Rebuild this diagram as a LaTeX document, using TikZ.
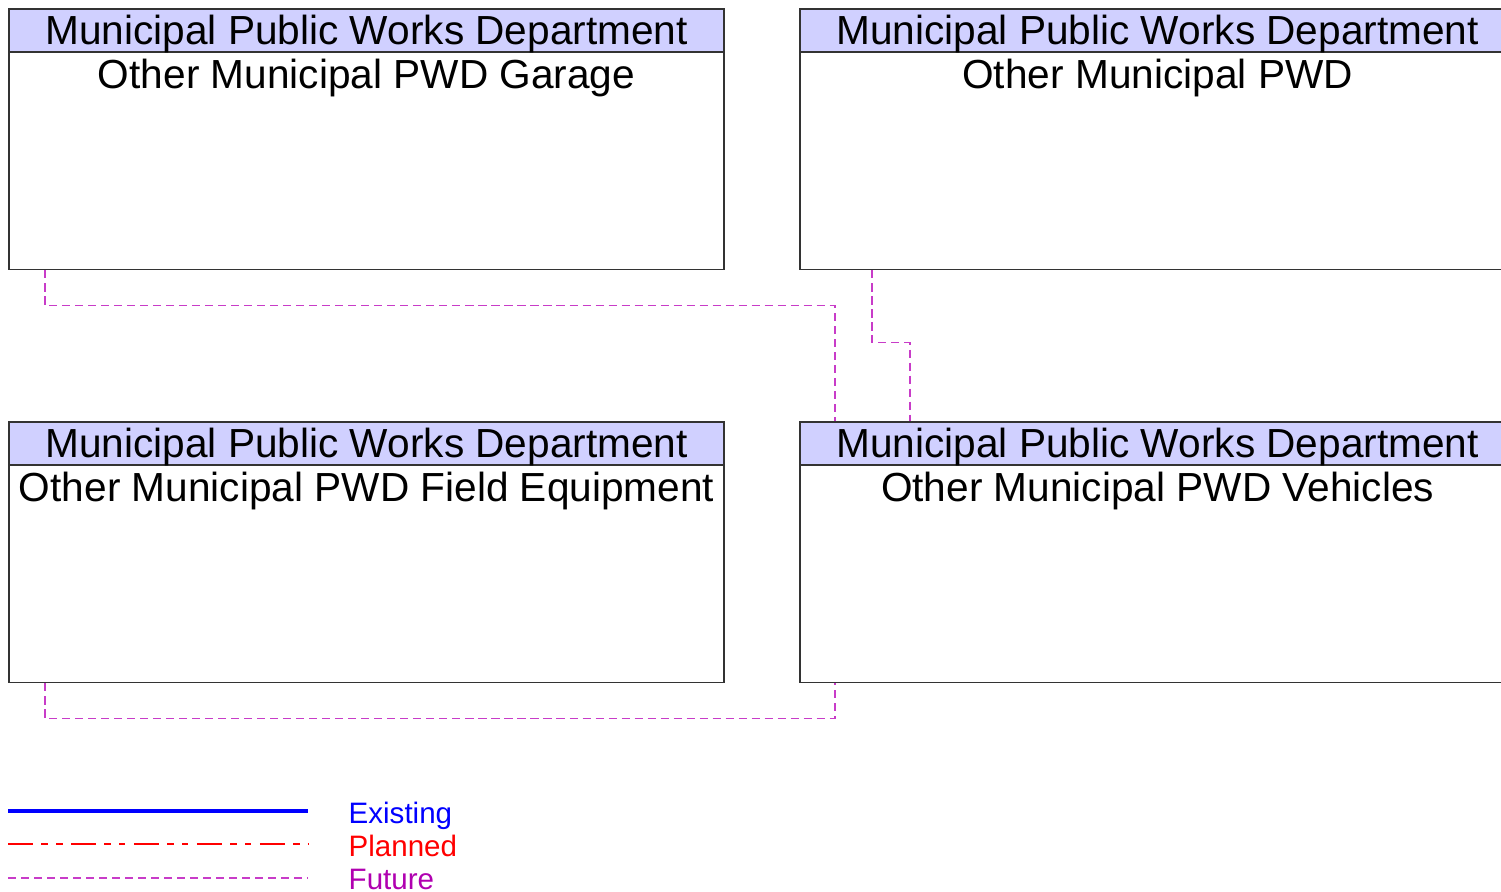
\documentclass[tikz,border=0pt]{standalone}
\usepackage{fontspec}
\setmainfont{Liberation Sans}
\usetikzlibrary{calc}
\definecolor{headblue}{RGB}{208,208,255}
\definecolor{futline}{RGB}{200,60,200}
\definecolor{futtext}{RGB}{176,0,176}
\begin{document}
\begin{tikzpicture}[
    x=0.01cm, y=-0.01cm,
    every node/.style={font=\fontsize{11.55pt}{13pt}\selectfont},
    pwdbox/.style={draw=black!80, fill=white, line width=0.5pt, anchor=north west, inner sep=0pt, minimum width=7.15cm, minimum height=2.605cm},
    pwdhead/.style={draw=black!80, fill=headblue, line width=0.5pt, anchor=north west, inner sep=0pt, minimum width=7.15cm, text height=10.1pt, text depth=2.1pt},
    pwdname/.style={anchor=base, inner sep=0pt},
    future/.style={draw=futline, line width=0.45pt, dash pattern=on 2.3pt off 1.4pt},
    planned/.style={draw=red, line width=0.45pt, dash pattern=on 7.1pt off 2.4pt on 1.8pt off 2.4pt on 1.8pt off 2.4pt},
    existing/.style={draw=blue, line width=1pt},
    legtext/.style={anchor=base west, inner sep=0pt, font=\fontsize{8.4pt}{10pt}\selectfont}
]
\useasboundingbox (0,0) rectangle (1501,892);
\clip (0,0) rectangle (1501,892);
% boxes
\node[pwdbox] (garage) at (8,8) {};
\node[pwdhead] (garageH) at (garage.north west) {Municipal Public Works Department};
\node[pwdname] (garageN) at ($(garage.north)+(0,81)$) {Other Municipal PWD Garage};
\node[pwdbox] (pwd) at (799,8) {};
\node[pwdhead] (pwdH) at (pwd.north west) {Municipal Public Works Department};
\node[pwdname] (pwdN) at ($(pwd.north)+(0,81)$) {Other Municipal PWD};
\node[pwdbox] (field) at (8,421) {};
\node[pwdhead] (fieldH) at (field.north west) {Municipal Public Works Department};
\node[pwdname] (fieldN) at ($(field.north)+(0,81)$) {Other Municipal PWD Field Equipment};
\node[pwdbox] (vehicles) at (799,421) {};
\node[pwdhead] (vehiclesH) at (vehicles.north west) {Municipal Public Works Department};
\node[pwdname] (vehiclesN) at ($(vehicles.north)+(0,81)$) {Other Municipal PWD Vehicles};
% flows
\draw[future] ($(garage.south west)+(37,0)$) -- ++(0,35) -| ($(vehiclesH.north west)+(36,0)$);
\draw[future] ($(pwd.south west)+(73,0)$) -- ++(0,72) -| ($(vehiclesH.north west)+(111,0)$);
\draw[future] ($(field.south west)+(37,0)$) -- ++(0,35) -| ($(vehicles.south west)+(36,0)$);
% legend
\node[legtext, text=blue] (lgExisting) at (348,823) {Existing};
\node[legtext, text=red] (lgPlanned) at (348,856) {Planned};
\node[legtext, text=futtext] (lgFuture) at (348,889) {Future};
\coordinate (exA) at (8,811);
\coordinate (plA) at (8,844);
\coordinate (fuA) at (8,878);
\draw[existing] (exA) -- ++(300,0);
\draw[planned] (plA) -- ++(300,0);
\draw[future] (fuA) -- ++(300,0);
\end{tikzpicture}
\end{document}
